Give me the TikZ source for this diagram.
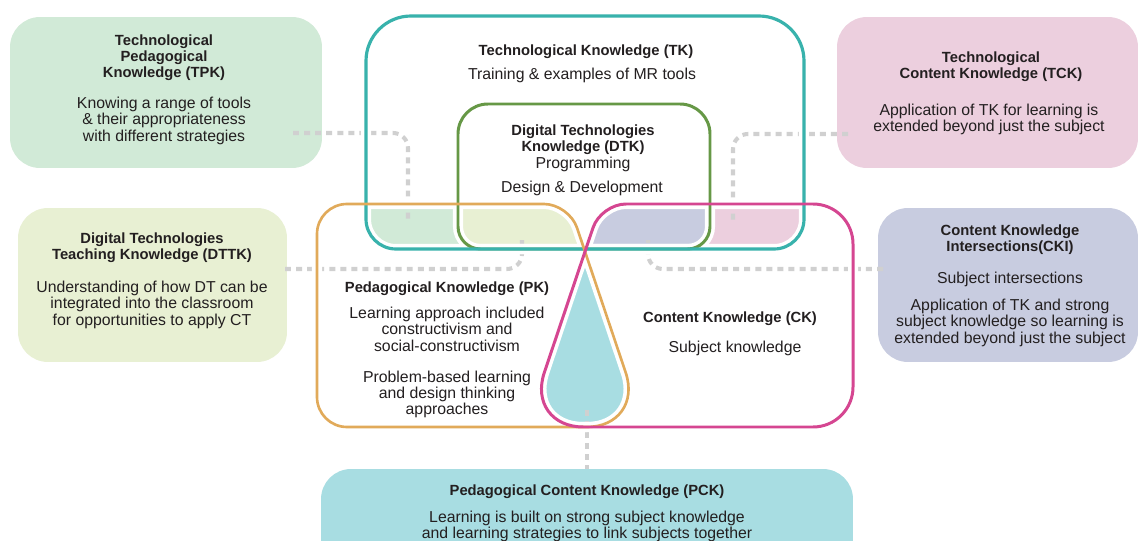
\documentclass[tikz,border=0pt]{standalone}
\usepackage{fontspec}
\setmainfont{Liberation Sans}
\usetikzlibrary{calc}

\definecolor{tkteal}{RGB}{56,178,172}
\definecolor{dtkgreen}{RGB}{102,152,70}
\definecolor{pkorange}{RGB}{225,170,90}
\definecolor{ckpink}{RGB}{213,70,145}
\definecolor{tpkfill}{RGB}{209,234,215}
\definecolor{tckfill}{RGB}{236,207,222}
\definecolor{dttkfill}{RGB}{232,240,211}
\definecolor{ckifill}{RGB}{200,204,224}
\definecolor{pckfill}{RGB}{168,221,226}
\definecolor{dashgray}{RGB}{208,208,208}
\definecolor{ink}{RGB}{35,31,32}

% outlines of the four knowledge areas (1 unit = 1 px, y pointing down);
% the rounding set before "-- V" is the one used at corner V
\newcommand\TKshape{(585,16) [rounded corners=0.9cm] -- (804,16) [rounded corners=0.6cm] -- (804,249) -- (366,249) [rounded corners=0.9cm] -- (366,16) -- cycle}
\newcommand\DTKshape{(585,104) [rounded corners=0.6cm] -- (710,104) [rounded corners=0.45cm] -- (710,249) -- (458,249) [rounded corners=0.6cm] -- (458,104) -- cycle}
\newcommand\PKshape{(450,204) [rounded corners=0.5cm] -- (569,204) [rounded corners=1.15cm] -- (644,427) [rounded corners=0.6cm] -- (317,427) -- (317,204) -- cycle}
\newcommand\CKshape{(720,204) [rounded corners=0.8cm] -- (853,204) -- (853,427) [rounded corners=1.15cm] -- (526,427) [rounded corners=0.5cm] -- (601,204) -- cycle}

\tikzset{
  sidebox/.style={rounded corners=0.6cm, inner sep=0pt, outer sep=0pt},
  txtbody/.style={font=\fontsize{9}{9.2}\selectfont, align=center, inner sep=0pt, anchor=north, text=ink},
  txthead/.style={txtbody, font=\fontsize{8.4}{9.2}\selectfont\bfseries},
  conn/.style={draw=dashgray, line width=2.3pt, dash pattern=on 3.4pt off 2.9pt, rounded corners=0.3cm},
  halo/.style={draw=white, line width=5.7pt},
}

\begin{document}
\begin{tikzpicture}[x=0.02cm, y=-0.02cm]
\useasboundingbox (0,0) rectangle (1140,541);
\clip (0,0) rectangle (1140,541);
\fill[white] (0,0) rectangle (1140,541);

% surrounding boxes
\node[sidebox, fill=tpkfill, minimum width=6.24cm, minimum height=3.02cm] (tpk) at (166,92.5) {};
\node[sidebox, fill=tckfill, minimum width=6.02cm, minimum height=3.02cm] (tck) at (987.5,92.5) {};
\node[sidebox, fill=dttkfill, minimum width=5.38cm, minimum height=3.08cm] (dttk) at (152.5,285) {};
\node[sidebox, fill=ckifill, minimum width=5.2cm, minimum height=3.08cm] (cki) at (1008,285) {};
\node[sidebox, fill=pckfill, minimum width=10.64cm, minimum height=2.22cm] (pck) at (587,524.5) {};

% overlap fills
\begin{scope}
  \clip \TKshape;
  \fill[tpkfill] \PKshape;
  \fill[tckfill] \CKshape;
\end{scope}
\begin{scope}
  \clip \DTKshape;
  \fill[dttkfill] \PKshape;
  \fill[ckifill] \CKshape;
\end{scope}
\begin{scope}
  \clip \PKshape;
  \fill[pckfill] \CKshape;
\end{scope}

% dotted leaders
\coordinate (tpkA) at (293,133);
\coordinate (tpkB) at (408,222);
\coordinate (tckA) at (848,134);
\coordinate (tckB) at (733,222);
\coordinate (dttkA) at (285,269);
\coordinate (dttkB) at (522,240);
\coordinate (ckiA) at (883,269);
\coordinate (ckiB) at (648,240);
\coordinate (pckA) at (587,410);
\draw[conn] (tpkA) -| (tpkB);
\draw[conn] (tckA) -| (tckB);
\draw[conn] (dttkA) -| (dttkB);
\draw[conn] (ckiA) -| (ckiB);
\draw[conn] (pckA) -- (pck.north);

% white gaps along the outlines
\draw[halo] \DTKshape;
\draw[halo] \TKshape;
\draw[halo] \PKshape;
\draw[halo] \CKshape;

% outlines
\draw[dtkgreen, line width=1.7pt] \DTKshape;
\draw[tkteal, line width=1.8pt] \TKshape;
\draw[pkorange, line width=1.5pt] \PKshape;
\draw[ckpink, line width=1.7pt] \CKshape;

% labels
\node[txthead] (tk-title) at (586,44) {Technological Knowledge (TK)};
\node[txtbody] (tk-text) at (582,68) {Training \& examples of MR tools};
\node[txthead] (dtk-title) at (583,124) {Digital Technologies\\Knowledge (DTK)};
\node[txtbody] (dtk-prog) at (583,157) {Programming};
\node[txtbody] (dtk-dev) at (582,181) {Design \& Development};
\node[txthead] (pk-title) at (447,281) {Pedagogical Knowledge (PK)};
\node[txtbody] (pk-text) at (447,307) {Learning approach included\\constructivism and\\social-constructivism\\[8.5pt]Problem-based learning\\and design thinking\\approaches};
\node[txthead] (ck-title) at (730,311) {Content Knowledge (CK)};
\node[txtbody] (ck-text) at (735,341) {Subject knowledge};
\node[txthead] (pck-title) at (587,484) {Pedagogical Content Knowledge (PCK)};
\node[txtbody] (pck-text) at (587,511) {Learning is built on strong subject knowledge\\and learning strategies to link subjects together};
\node[txthead] (tpk-title) at (164,34) {Technological\\Pedagogical\\Knowledge (TPK)};
\node[txtbody] (tpk-text) at (164,97) {Knowing a range of tools\\\& their appropriateness\\with different strategies};
\node[txthead] (tck-title) at (991,51) {Technological\\Content Knowledge (TCK)};
\node[txtbody] (tck-text) at (989,104) {Application of TK for learning is\\extended beyond just the subject};
\node[txthead] (dttk-title) at (152,232) {Digital Technologies\\Teaching Knowledge (DTTK)};
\node[txtbody] (dttk-text) at (152,281) {Understanding of how DT can be\\integrated into the classroom\\for opportunities to apply CT};
\node[txthead] (cki-title) at (1010,224) {Content Knowledge\\Intersections(CKI)};
\node[txtbody] (cki-sub) at (1010,272) {Subject intersections};
\node[txtbody] (cki-text) at (1010,299) {Application of TK and strong\\subject knowledge so learning is\\extended beyond just the subject};
\end{tikzpicture}
\end{document}
